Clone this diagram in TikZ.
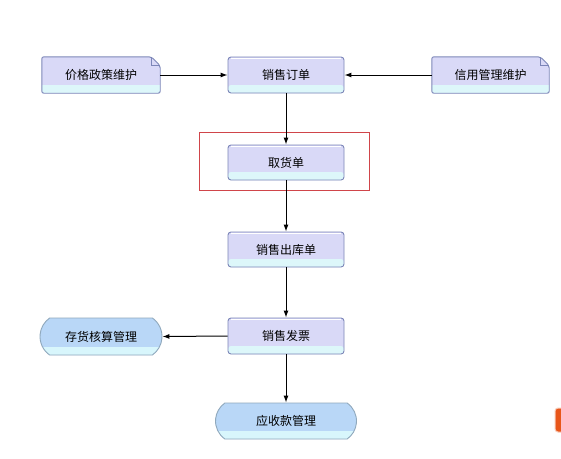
\documentclass[tikz,border=0pt]{standalone}
\usepackage{fontspec}
\setmainfont{Noto Sans CJK SC}
\usetikzlibrary{arrows.meta,shapes.misc}
\definecolor{lav}{HTML}{D9D9F7}
\definecolor{band}{HTML}{DDF7FA}
\definecolor{bord}{HTML}{7C86B8}
\definecolor{tfill}{HTML}{B9D7F7}
\definecolor{tband}{HTML}{D8F6FC}
\definecolor{tbord}{HTML}{8FA8BC}
\definecolor{redbox}{HTML}{D0454A}
\definecolor{orng}{HTML}{E8561A}
\begin{document}
\begin{tikzpicture}[x=1pt,y=-1pt,
  every node/.style={font=\fontsize{12}{14}\selectfont, text=black},
  proc/.style={rectangle, rounded corners=3pt, draw=bord, line width=0.9pt,
    minimum width=116pt, minimum height=36pt, inner sep=0pt,
    fill=lav,
    path picture={\fill[band] ([yshift=8pt]path picture bounding box.south west) rectangle (path picture bounding box.south east);
      \draw[white, line width=0.8pt] ([xshift=3pt,yshift=-1.5pt]path picture bounding box.north west) -- ([xshift=-3pt,yshift=-1.5pt]path picture bounding box.north east);}},
  doc/.style={rectangle, draw=none, minimum width=118pt, minimum height=36pt, inner sep=0pt,
    path picture={
      \fill[lav] (path picture bounding box.south west) |- ([xshift=-9pt]path picture bounding box.north east) -- ([yshift=-9pt]path picture bounding box.north east) |- cycle;
      \fill[band] ([yshift=8pt]path picture bounding box.south west) rectangle (path picture bounding box.south east);}},
  docline/.style={draw=bord, line width=0.9pt, rounded corners=2pt},
  term/.style={rounded rectangle, rounded rectangle arc length=110, draw=tbord, line width=0.9pt,
    minimum height=37pt, inner sep=0pt, fill=tfill,
    path picture={\fill[tband] ([yshift=8pt]path picture bounding box.south west) rectangle (path picture bounding box.south east);}},
  arr/.style={-{Latex[length=7pt,width=5pt]}, line width=1pt, black},
  hl/.style={draw=redbox, line width=0.8pt}
]
\useasboundingbox (0,0) rectangle (561,458);
\fill[white] (0,0) rectangle (561,458);

\node[hl, minimum width=170pt, minimum height=58pt, inner sep=0pt] (red) at (284,161) {};

\node[doc] (a) at (101,75) {价格政策维护};
\draw[docline] (a.south west) -- (a.north west) -- ([xshift=-9pt]a.north east) -- ([yshift=-9pt]a.north east) -- (a.south east) -- cycle;
\draw[bord, line width=0.7pt] ([xshift=-9pt]a.north east) |- ([yshift=-9pt]a.north east);

\node[proc] (b) at (286,75) {销售订单};

\node[doc, minimum width=117pt] (c) at (490.5,75) {信用管理维护};
\draw[docline] (c.south west) -- (c.north west) -- ([xshift=-9pt]c.north east) -- ([yshift=-9pt]c.north east) -- (c.south east) -- cycle;
\draw[bord, line width=0.7pt] ([xshift=-9pt]c.north east) |- ([yshift=-9pt]c.north east);

\node[proc, minimum height=35pt] (d) at (286,162.5) {取货单};
\node[proc, minimum height=35pt] (e) at (286,249.5) {销售出库单};
\node[proc] (f) at (286,336) {销售发票};
\node[term, minimum width=122pt] (g) at (101,336.5) {存货核算管理};
\node[term, minimum width=141pt, minimum height=36pt] (h) at (286,421) {应收款管理};

\draw[arr] (a.east) -- (b.west);
\draw[arr] (c.west) -- (b.east);
\draw[arr] (b.south) -- (d.north);
\draw[arr] (d.south) -- (e.north);
\draw[arr] (e.south) -- (f.north);
\draw[arr] (f.west) -- (g.east);
\draw[arr] (f.south) -- (h.north);

\fill[orng, rounded corners=3pt, draw=orng!30, line width=1pt] (555,408) rectangle (570,432);
\end{tikzpicture}
\end{document}
